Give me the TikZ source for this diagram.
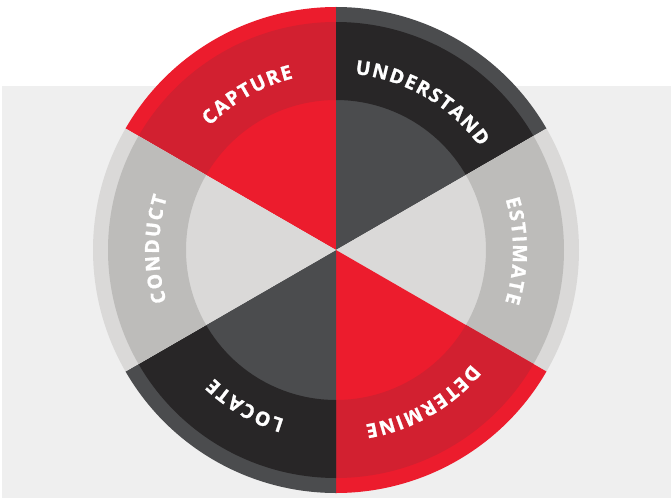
\documentclass[tikz,border=0pt]{standalone}
\usepackage{fontspec}
\usepackage{xcolor}
\usetikzlibrary{decorations.text}
\newfontfamily\wheelfamily[BoldFeatures={FakeBold=1.2}]{Open Sans}
\newcommand{\wheelfont}{\wheelfamily\bfseries\fontsize{19.5}{19.5}\selectfont\color{white}\kern1.6pt}
\definecolor{wheelred}{RGB}{236, 28, 45}
\definecolor{bandred}{RGB}{210, 32, 48}
\definecolor{wheeldark}{RGB}{75, 76, 78}
\definecolor{banddark}{RGB}{40, 38, 39}
\definecolor{wheellight}{RGB}{218, 217, 216}
\definecolor{bandlight}{RGB}{189, 188, 186}
\definecolor{backgray}{RGB}{239, 239, 239}

\begin{document}
\begin{tikzpicture}[
    x=1pt, y=1pt,
    backdrop/.style={fill=backgray},
    wheellabel/.style={decorate, decoration={text along path, text align=center}}
]
\useasboundingbox (-336,-248) rectangle (335,250);
\fill[backdrop] (-334,-248) rectangle (335,164);

% six sectors, each with an outer ring, a label band and an inner wedge
\foreach \a/\lbl/\main/\band in {120/CAPTURE/wheelred/bandred, 60/UNDERSTAND/wheeldark/banddark, 0/ESTIMATE/wheellight/bandlight, -60/DETERMINE/wheelred/bandred, -120/LOCATE/wheeldark/banddark, 180/CONDUCT/wheellight/bandlight}{
    \fill[\main] (0,0) -- (\a+30:243) arc[start angle=\a+30, end angle=\a-30, radius=243] -- cycle;
    \fill[\band] (\a+30:228) arc[start angle=\a+30, end angle=\a-30, radius=228]
        -- (\a-30:150) arc[start angle=\a-30, end angle=\a+30, radius=150] -- cycle;
    \path[wheellabel, decoration={text/.expanded={|\noexpand\wheelfont|\lbl}}]
        (\a+30:177) arc[start angle=\a+30, end angle=\a-30, radius=177];
}

\end{tikzpicture}
\end{document}
